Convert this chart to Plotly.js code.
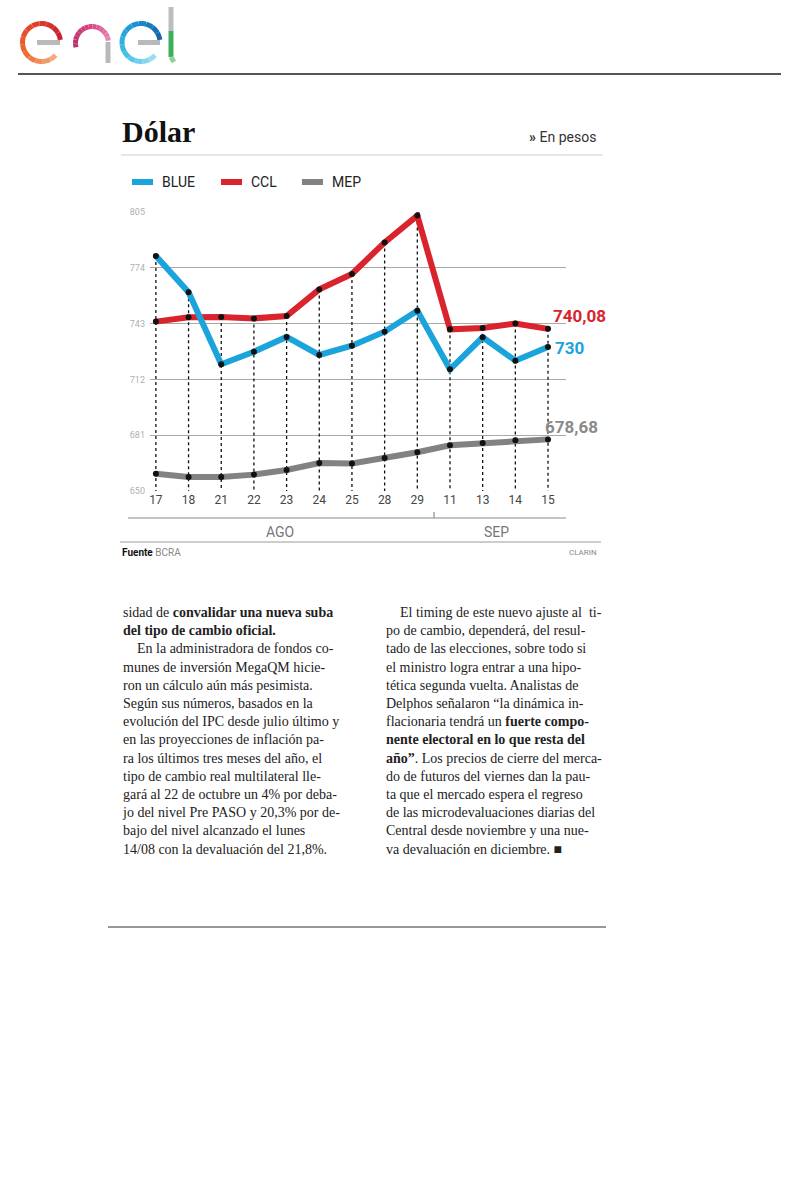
<!DOCTYPE html>
<html>
<head>
<meta charset="utf-8">
<script src="https://cdn.plot.ly/plotly-3.0.1.min.js"></script>
<style>html,body{margin:0;padding:0;background:#fff;}#chart{width:800px;height:1200px;}</style>
</head>
<body>
<div id="chart"></div>
<script>
// ---- data ----
const days = ["17","18","21","22","23","24","25","28","29","11","13","14","15"];
const blue = [780.6, 760.4, 720.4, 727.4, 735.6, 725.6, 730.7, 738.5, 750.2, 717.6, 735.4, 722.4, 730];
const ccl  = [744.1, 746.5, 746.7, 745.9, 747.2, 762.0, 770.6, 788.1, 803.0, 739.8, 740.6, 743.0, 740.08];
const mep  = [659.6, 657.8, 657.8, 659.1, 661.7, 665.5, 665.3, 668.3, 671.5, 675.4, 676.7, 678.2, 678.68];
const yTicks = [650, 681, 712, 743, 774, 805];
const seriesNames = ["BLUE", "CCL", "MEP"];
const months = ["AGO", "SEP"];

// ---- helpers (pixel -> paper) ----
const W = 800, H = 1200;
const px = x => x / W;
const py = y => 1 - y / H;

const colors = {BLUE: "#1ba3dc", CCL: "#d9232d", MEP: "#828282"};

// dotted drop lines from highest point to axis base
const dropX = [], dropY = [];
days.forEach((d, i) => {
  const top = Math.max(blue[i], ccl[i], mep[i]);
  dropX.push(d, d, null);
  dropY.push(top, yTicks[0], null);
});

const fmt = v => (Number.isInteger(v) ? String(v) : v.toFixed(2).replace(".", ","));

const traces = [
  {x: dropX, y: dropY, mode: "lines", line: {color: "#111", width: 1.3, dash: "dot"}, hoverinfo: "skip", showlegend: false},
  {x: days, y: mep, name: "MEP", mode: "lines+markers", line: {color: colors.MEP, width: 6}, marker: {color: "#111", size: 6}, cliponaxis: false, showlegend: false},
  {x: days, y: ccl, name: "CCL", mode: "lines+markers", line: {color: colors.CCL, width: 6}, marker: {color: "#111", size: 6}, cliponaxis: false, showlegend: false},
  {x: days, y: blue, name: "BLUE", mode: "lines+markers", line: {color: colors.BLUE, width: 6}, marker: {color: "#111", size: 6}, cliponaxis: false, showlegend: false}
];

const last = days.length - 1;

const annotations = [
  {xref: "paper", yref: "paper", x: px(120), y: py(132), xanchor: "left", yanchor: "middle", showarrow: false,
   text: "<b>Dólar</b>", font: {family: "'Liberation Serif', serif", size: 30, color: "#111"}},
  {xref: "paper", yref: "paper", x: px(598), y: py(137), xanchor: "right", yanchor: "middle", showarrow: false,
   text: "<b>»</b> En pesos", font: {family: "Roboto, sans-serif", size: 14, color: "#333"}},
  // legend labels
  {xref: "paper", yref: "paper", x: px(160), y: py(182), xanchor: "left", yanchor: "middle", showarrow: false,
   text: seriesNames[0], font: {family: "Roboto, sans-serif", size: 14, color: "#222"}},
  {xref: "paper", yref: "paper", x: px(249), y: py(182), xanchor: "left", yanchor: "middle", showarrow: false,
   text: seriesNames[1], font: {family: "Roboto, sans-serif", size: 14, color: "#222"}},
  {xref: "paper", yref: "paper", x: px(330), y: py(182), xanchor: "left", yanchor: "middle", showarrow: false,
   text: seriesNames[2], font: {family: "Roboto, sans-serif", size: 14, color: "#222"}},
  // end labels (category axis: use index)
  {xref: "x", yref: "y", x: last, y: ccl[last], xanchor: "left", yanchor: "middle", xshift: 3, yshift: 13, showarrow: false,
   text: "<b>" + fmt(ccl[last]) + "</b>", font: {family: "Roboto, sans-serif", size: 17, color: colors.CCL}},
  {xref: "x", yref: "y", x: last, y: blue[last], xanchor: "left", yanchor: "middle", xshift: 5, yshift: -1, showarrow: false,
   text: "<b>" + fmt(blue[last]) + "</b>", font: {family: "Roboto, sans-serif", size: 17, color: colors.BLUE}},
  {xref: "x", yref: "y", x: last, y: mep[last], xanchor: "left", yanchor: "middle", xshift: -5, yshift: 12, showarrow: false,
   text: "<b>" + fmt(mep[last]) + "</b>", font: {family: "Roboto, sans-serif", size: 17, color: "#8a8a8a"}},
  // months
  {xref: "paper", yref: "paper", x: px(280), y: py(532), xanchor: "center", yanchor: "middle", showarrow: false,
   text: months[0], font: {family: "Roboto, sans-serif", size: 14, color: "#777"}},
  {xref: "paper", yref: "paper", x: px(496), y: py(532), xanchor: "center", yanchor: "middle", showarrow: false,
   text: months[1], font: {family: "Roboto, sans-serif", size: 14, color: "#777"}},
  // source
  {xref: "paper", yref: "paper", x: px(120), y: py(552), xanchor: "left", yanchor: "middle", showarrow: false,
   text: '<b>Fuente</b> <span style="color:#888">BCRA</span>', font: {family: "Roboto, sans-serif", size: 10, color: "#111"}},
  {xref: "paper", yref: "paper", x: px(599), y: py(552), xanchor: "right", yanchor: "middle", showarrow: false,
   text: "CLARIN", font: {family: "Roboto, sans-serif", size: 8, color: "#888"}},
  // article columns
  {xref: "paper", yref: "paper", x: px(120), y: py(603), xanchor: "left", yanchor: "top", align: "left", showarrow: false,
   font: {family: "'Liberation Serif', serif", size: 14, color: "#222"},
   text: [
     "sidad de <b>convalidar una nueva suba</b>",
     "<b>del tipo de cambio oficial.</b>",
     "\u2003En la administradora de fondos co-",
     "munes de inversión MegaQM hicie-",
     "ron un cálculo aún más pesimista.",
     "Según sus números, basados en la",
     "evolución del IPC desde julio último y",
     "en las proyecciones de inflación pa-",
     "ra los últimos tres meses del año, el",
     "tipo de cambio real multilateral lle-",
     "gará al 22 de octubre un 4% por deba-",
     "jo del nivel Pre PASO y 20,3% por de-",
     "bajo del nivel alcanzado el lunes",
     "14/08 con la devaluación del 21,8%."
   ].join("<br>")},
  {xref: "paper", yref: "paper", x: px(384), y: py(603), xanchor: "left", yanchor: "top", align: "left", showarrow: false,
   font: {family: "'Liberation Serif', serif", size: 14, color: "#222"},
   text: [
     "\u2003El timing de este nuevo ajuste al  ti-",
     "po de cambio, dependerá, del resul-",
     "tado de las elecciones, sobre todo si",
     "el ministro logra entrar a una hipo-",
     "tética segunda vuelta. Analistas de",
     "Delphos señalaron “la dinámica in-",
     "flacionaria tendrá un <b>fuerte compo-</b>",
     "<b>nente electoral en lo que resta del</b>",
     "<b>año”</b>. Los precios de cierre del merca-",
     "do de futuros del viernes dan la pau-",
     "ta que el mercado espera el regreso",
     "de las microdevaluaciones diarias del",
     "Central desde noviembre y una nue-",
     "va devaluación en diciembre. \u25A0"
   ].join("<br>")}
];

const line = (x0, y0, x1, y1, color, width) => ({type: "line", xref: "paper", yref: "paper",
  x0: px(x0), y0: py(y0), x1: px(x1), y1: py(y1), line: {color: color, width: width}});

// ---- logo drawing helpers (decorative) ----
const hex = c => [1, 3, 5].map(i => parseInt(c.slice(i, i + 2), 16));
const mix = (a, b, t) => { const A = hex(a), B = hex(b); return "rgb(" + A.map((v, i) => Math.round(v + (B[i] - v) * t)).join(",") + ")"; };
const grad = (stops, t) => { const n = stops.length - 1; const k = Math.min(n - 1, Math.floor(t * n)); return mix(stops[k], stops[k + 1], t * n - k); };
function arcShapes(cx, cy, r, a0, a1, stops, width) {
  const segs = 14, out = [];
  for (let s = 0; s < segs; s++) {
    const t0 = s / segs, t1 = (s + 1) / segs, pts = [];
    for (let j = 0; j <= 4; j++) {
      const th = (a0 + (a1 - a0) * (t0 + (t1 - t0) * j / 4)) * Math.PI / 180;
      pts.push(px(cx + r * Math.cos(th)).toFixed(5) + "," + py(cy - r * Math.sin(th)).toFixed(5));
    }
    out.push({type: "path", xref: "paper", yref: "paper", path: "M" + pts.join(" L"),
      line: {color: grad(stops, (t0 + t1) / 2), width: width}, layer: "above"});
  }
  return out;
}
const logo = [].concat(
  [line(37, 42.5, 60, 42.5, "#b9b9b9", 5)],
  arcShapes(41.5, 42.5, 19, 8, 318, ["#c41f33", "#e0402c", "#ee6a2e", "#f6b089"], 5),
  [line(108, 42, 108, 63, "#b9b9b9", 5)],
  arcShapes(92, 43, 16.5, 195, 8, ["#b8306a", "#d63f80", "#e58ab6"], 5),
  [line(138, 42.5, 160, 42.5, "#b9b9b9", 5)],
  arcShapes(141, 42.5, 19, 8, 318, ["#1560a6", "#1a93d2", "#3fc0e6", "#a6e2f2"], 5),
  [line(171, 7, 171, 31, "#bdbdbd", 5)],
  [line(171, 31, 171, 57, "#3fae5a", 5)],
  [line(171, 57, 174, 62, "#8fd19b", 5)]
);

const shapes = logo.concat([
  line(18, 74, 781, 74, "#555", 2),
  line(121, 155, 603, 155, "#cfcfcf", 1),
  // legend swatches
  line(132, 182, 153, 182, colors.BLUE, 6),
  line(221, 182, 242, 182, colors.CCL, 6),
  line(302, 182, 323, 182, colors.MEP, 6),
  // month band
  line(128, 518, 566, 518, "#8a8a8a", 1.2),
  line(434, 512, 434, 518, "#8a8a8a", 1.2),
  line(120, 542, 601, 542, "#9a9a9a", 1),
  line(108, 927, 606, 927, "#333", 1)
]);

const layout = {
  width: W, height: H,
  margin: {l: 0, r: 0, t: 0, b: 0},
  paper_bgcolor: "#fff", plot_bgcolor: "#fff",
  showlegend: false,
  xaxis: {
    type: "category", domain: [px(150), px(566)], range: [-0.18, 12.55],
    showgrid: false, zeroline: false, showline: false, ticks: "",
    tickfont: {family: "Roboto, sans-serif", size: 12, color: "#444"}, fixedrange: true
  },
  yaxis: {
    domain: [py(491), py(212)], range: [yTicks[0], yTicks[yTicks.length - 1]],
    tickvals: yTicks, ticktext: yTicks.map(String),
    showgrid: true, gridcolor: "#a9a9a9", gridwidth: 1.3, zeroline: false, showline: false, ticks: "",
    ticklabelstandoff: 4,
    tickfont: {family: "Roboto, sans-serif", size: 9, color: "#b0b0b0"}, fixedrange: true
  },
  annotations: annotations,
  shapes: shapes
};

Plotly.newPlot("chart", traces, layout, {displayModeBar: false, staticPlot: true});
</script>
</body>
</html>
